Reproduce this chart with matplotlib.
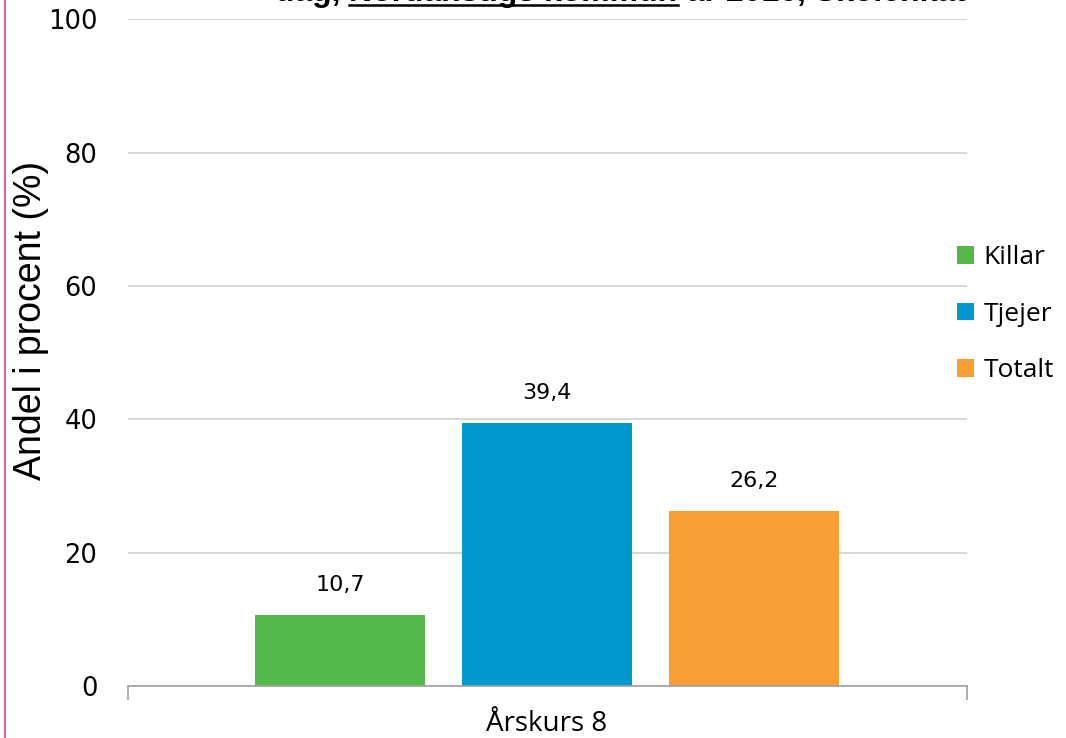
import matplotlib
matplotlib.use('Agg')
from matplotlib import pyplot as plt
from matplotlib.lines import Line2D

category = 'Årskurs 8'
series = ['Killar', 'Tjejer', 'Totalt']
values = [10.7, 39.4, 26.2]
colors = ['#52B84A', '#0099CF', '#F99D36']
yticks = [0, 20, 40, 60, 80, 100]

fig = plt.figure(figsize=(10.66, 7.38), dpi=100)
ax = fig.add_axes([0.120, 0.0705, 0.787, 0.9035])

width = 0.2026
offsets = [-0.2467, 0.0, 0.2467]
for name, val, col, off in zip(series, values, colors, offsets):
    ax.bar(off, val, width=width, color=col, label=name, zorder=3)
    ax.text(off, val + 3, '{:.1f}'.format(val).replace('.', ','),
            ha='center', va='bottom', fontsize=16, family='DejaVu Sans')

ax.set_xlim(-0.5, 0.5)
ax.set_ylim(0, 100)
ax.set_yticks(yticks)
ax.set_yticklabels([str(t) for t in yticks], fontsize=18.5, family='DejaVu Sans')
ax.tick_params(axis='y', length=0, pad=22)
ax.set_xticks([-0.5, 0.5])
ax.set_xticklabels(['', ''])
ax.tick_params(axis='x', length=10, color='#A0A0A0', width=1.2)
ax.yaxis.grid(True, color='#D0D0D0', linewidth=1.2, zorder=0)
for s in ['top', 'right', 'left']:
    ax.spines[s].set_visible(False)
ax.spines['bottom'].set_color('#A0A0A0')
ax.spines['bottom'].set_linewidth(1.2)
ax.spines['bottom'].set_zorder(4)

ax.set_ylabel('Andel i procent (%)', fontsize=27, family='Liberation Sans',
              va='center', ha='center')
ax.yaxis.set_label_coords(-0.116, 0.548)
fig.text(0.513, 0.0, category, ha='center', va='bottom', fontsize=20, family='Open Sans')

leg = ax.legend(loc='upper left', bbox_to_anchor=(0.898, 0.668), bbox_transform=fig.transFigure,
                frameon=False, handlelength=0.65, handleheight=0.65, handletextpad=0.35,
                labelspacing=1.2, borderaxespad=0, borderpad=0,
                prop={'family': 'Open Sans', 'size': 19})

# title, cut off at the top edge as in the reference
fig.canvas.draw()
r = fig.canvas.get_renderer()
tkw = dict(va='baseline', fontsize=23, fontweight='bold', family='Liberation Sans')
y0 = 1 - 1.5 / 738
x = 275 / 1066
t1 = fig.text(x, y0, 'dag, ', **tkw)
x = fig.transFigure.inverted().transform(t1.get_window_extent(r))[1][0]
t2 = fig.text(x, y0, 'Nordanstigs kommun', **tkw)
bb = fig.transFigure.inverted().transform(t2.get_window_extent(r))
fig.add_artist(Line2D([bb[0][0], bb[1][0]], [y0 - 3 / 738, y0 - 3 / 738],
                      transform=fig.transFigure, color='black', linewidth=1.8))
t3 = fig.text(bb[1][0], y0, ' år 2016, Skolenkät', **tkw)

# pink border at left
fig.add_artist(Line2D([0.0047, 0.0047], [0, 1], transform=fig.transFigure,
                      color='#E8409A', linewidth=1.2))

fig.savefig('out.png', dpi=100)
